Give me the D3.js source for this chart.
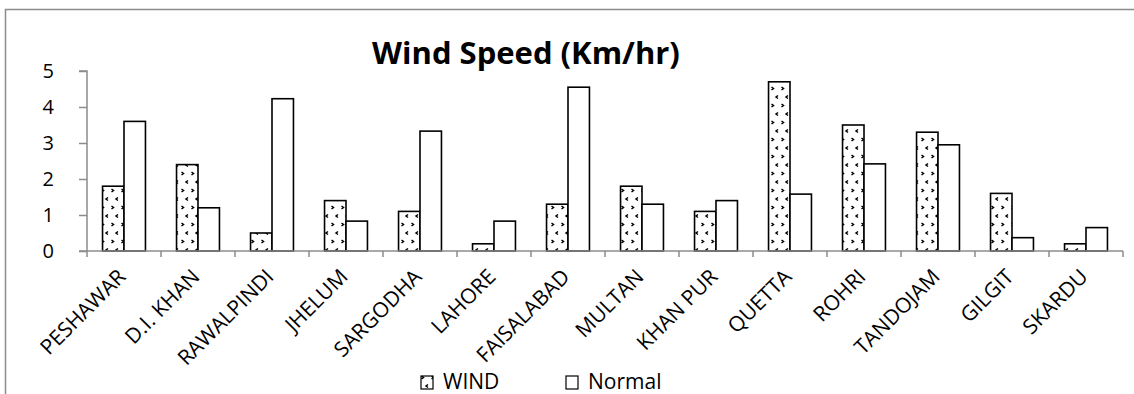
<!DOCTYPE html>
<html>
<head>
<meta charset="utf-8">
<script src="https://cdn.jsdelivr.net/npm/d3@7"></script>
<style>
  body { margin: 0; background: #fff; }
  text { font-family: "Open Sans", sans-serif; fill: #000; }
</style>
</head>
<body>
<svg id="chart"></svg>
<script>
const cities = ["PESHAWAR", "D.I. KHAN", "RAWALPINDI", "JHELUM", "SARGODHA", "LAHORE",
  "FAISALABAD", "MULTAN", "KHAN PUR", "QUETTA", "ROHRI", "TANDOJAM", "GILGIT", "SKARDU"];
const wind = [1.8, 2.4, 0.5, 1.4, 1.1, 0.2, 1.3, 1.8, 1.1, 4.7, 3.5, 3.3, 1.6, 0.2];
const normal = [3.6, 1.2, 4.23, 0.83, 3.33, 0.83, 4.55, 1.3, 1.4, 1.58, 2.42, 2.95, 0.37, 0.65];
const yTicks = [0, 1, 2, 3, 4, 5];
const seriesNames = ["WIND", "Normal"];

const width = 1134;
const height = 394;
const margin = { left: 87, right: 11, top: 71, bottom: 143 };

const svg = d3.select("#chart").attr("width", width).attr("height", height);

// pattern for WIND bars
const defs = svg.append("defs");
const pat = defs.append("pattern")
  .attr("id", "dots")
  .attr("patternUnits", "userSpaceOnUse")
  .attr("width", 10)
  .attr("height", 17);
pat.append("rect").attr("width", 10).attr("height", 17).attr("fill", "#fff");
pat.append("path").attr("d", "M1.5,2 L3.5,3.5 L1.5,5").attr("fill", "none").attr("stroke", "#000").attr("stroke-width", 1.5);
pat.append("path").attr("d", "M8,10.5 L6,12 L8,13.5").attr("fill", "none").attr("stroke", "#000").attr("stroke-width", 1.5);

// outer frame (top and left only visible)
svg.append("line").attr("x1", 5).attr("x2", width).attr("y1", 9.5).attr("y2", 9.5)
  .attr("stroke", "#8c8c8c").attr("stroke-width", 1.5);
svg.append("line").attr("x1", 5.5).attr("x2", 5.5).attr("y1", 9).attr("y2", height)
  .attr("stroke", "#8c8c8c").attr("stroke-width", 1.5);

const x = d3.scaleBand().domain(cities).range([margin.left, width - margin.right]).paddingInner(0.42).paddingOuter(0.21);
const x0 = d3.scaleBand().domain(cities).range([margin.left, width - margin.right]);
const xs = d3.scaleBand().domain(seriesNames).range([0, x.bandwidth()]);
const y = d3.scaleLinear().domain([0, 5]).range([height - margin.bottom, margin.top]);

// title
svg.append("text")
  .attr("x", 526).attr("y", 64)
  .attr("text-anchor", "middle")
  .style("font-size", "31px").style("font-weight", "bold")
  .text("Wind Speed (Km/hr)");

// bars
const g = svg.append("g");
cities.forEach((c, i) => {
  g.append("rect")
    .attr("x", x(c) + xs("WIND"))
    .attr("y", y(wind[i]))
    .attr("width", xs.bandwidth())
    .attr("height", y(0) - y(wind[i]))
    .attr("fill", "url(#dots)")
    .attr("stroke", "#000").attr("stroke-width", 1.6);
  g.append("rect")
    .attr("x", x(c) + xs("Normal"))
    .attr("y", y(normal[i]))
    .attr("width", xs.bandwidth())
    .attr("height", y(0) - y(normal[i]))
    .attr("fill", "#fff")
    .attr("stroke", "#000").attr("stroke-width", 1.6);
});

// y axis
const yAxis = d3.axisLeft(y).tickValues(yTicks).tickSize(8).tickPadding(25).tickFormat(d3.format("d"));
const ya = svg.append("g").attr("transform", `translate(${margin.left},0)`).call(yAxis);
ya.select(".domain").attr("stroke", "#8c8c8c").attr("stroke-width", 1.5).attr("d", `M-8,${y(5)}H0V${y(0)}`);
ya.selectAll(".tick line").attr("stroke", "#8c8c8c").attr("stroke-width", 1.5);
ya.selectAll(".tick text").style("font-size", "20px").style("font-family", "'Open Sans', sans-serif");

// x axis with ticks at category boundaries
const xa = svg.append("g").attr("transform", `translate(0,${y(0)})`);
xa.append("line").attr("x1", margin.left - 8).attr("x2", width - margin.right).attr("y1", 0).attr("y2", 0)
  .attr("stroke", "#8c8c8c").attr("stroke-width", 1.5);
const bounds = cities.map(c => x0(c)).concat([x0(cities[cities.length - 1]) + x0.bandwidth()]);
xa.selectAll("line.tk").data(bounds).enter().append("line").attr("class", "tk")
  .attr("x1", d => d).attr("x2", d => d).attr("y1", 0).attr("y2", 6)
  .attr("stroke", "#8c8c8c").attr("stroke-width", 1.5);
xa.selectAll("text.lbl").data(cities).enter().append("text").attr("class", "lbl")
  .attr("text-anchor", "end")
  .style("font-size", "21px")
  .attr("transform", d => `translate(${x0(d) + x0.bandwidth() / 2 + 3},${27}) rotate(-45)`)
  .text(d => d);

// legend
const legend = svg.append("g");
const items = [{ name: "WIND", fill: "url(#dots)", x: 421 }, { name: "Normal", fill: "#fff", x: 566 }];
items.forEach(it => {
  legend.append("rect").attr("x", it.x).attr("y", 376).attr("width", 12).attr("height", 13)
    .attr("fill", it.fill).attr("stroke", "#000").attr("stroke-width", 1.2);
  legend.append("text").attr("x", it.x + 22).attr("y", 389).style("font-size", "21px").text(it.name);
});
</script>
</body>
</html>
